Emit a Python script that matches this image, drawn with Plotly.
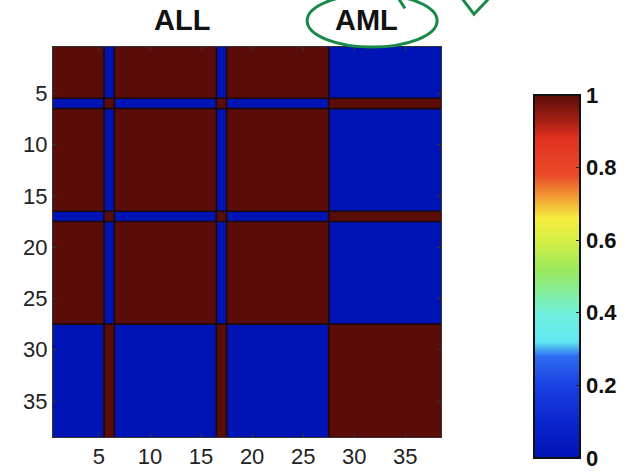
import numpy as np
import plotly.graph_objects as go

# Cluster assignment of the 38 leukemia samples (0 = ALL group, 1 = AML group)
sample_ids = list(range(1, 39))
cluster = [0, 0, 0, 0, 0, 1, 0, 0, 0, 0,
           0, 0, 0, 0, 0, 0, 1, 0, 0, 0,
           0, 0, 0, 0, 0, 0, 0, 1, 1, 1,
           1, 1, 1, 1, 1, 1, 1, 1]
tick_vals = [5, 10, 15, 20, 25, 30, 35]
cbar_ticks = [0, 0.2, 0.4, 0.6, 0.8, 1]
group_labels = ["ALL", "AML"]
group_label_x = [13.1, 31.25]

# Consensus matrix: fraction of runs in which two samples share a cluster
lab = np.array(cluster)
consensus = (lab[:, None] == lab[None, :]).astype(float)

jet = [
    [0.00, "#0013b5"], [0.10, "#0a26cf"], [0.20, "#1a40e2"], [0.28, "#2d6cf0"],
    [0.32, "#5fe8f2"], [0.40, "#72f0dc"], [0.46, "#86ee96"], [0.52, "#9ce85a"],
    [0.60, "#d6ef44"], [0.66, "#f6ee3e"], [0.72, "#f29a33"], [0.78, "#ea4a2a"],
    [0.88, "#e2301f"], [0.94, "#9a1c12"], [1.00, "#5a0c08"],
]

fig = go.Figure()
fig.add_trace(go.Heatmap(
    x=sample_ids, y=sample_ids, z=consensus,
    colorscale=jet, zmin=0, zmax=1,
    colorbar=dict(
        x=1.24, xanchor="left", xpad=0, ypad=0,
        y=0.412, yanchor="middle", len=363, lenmode="pixels",
        thickness=46, thicknessmode="pixels",
        outlinecolor="#111", outlinewidth=2,
        tickvals=cbar_ticks, ticktext=["0", "0.2", "0.4", "0.6", "0.8", "1"],
        ticks="inside", ticklen=5, tickcolor="#222",
        tickfont=dict(family="Liberation Sans", size=22, color="#111", weight="bold"),
    ),
))

# Dark outlines at every position where the cluster label changes
edges = [i + 0.5 for i in range(1, len(cluster)) if cluster[i] != cluster[i - 1]]
edge_line = dict(color="#1c0805", width=1.6)
for e in edges:
    fig.add_shape(type="line", xref="x", yref="y domain", x0=e, x1=e, y0=0, y1=1,
                  line=edge_line)
    fig.add_shape(type="line", xref="x domain", yref="y", x0=0, x1=1, y0=e, y1=e,
                  line=edge_line)

for name, gx in zip(group_labels, group_label_x):
    fig.add_annotation(
        x=gx, xref="x", y=1.07, yref="paper", text=name, showarrow=False,
        xanchor="center", yanchor="middle",
        font=dict(family="Liberation Sans", size=29, color="#111", weight="bold"),
    )

# Hand-drawn green marks around the AML label
pen = dict(color="#1a8a48", width=3)
fig.add_shape(type="circle", xref="paper", yref="paper",
              x0=0.655, x1=0.990, y0=1.0, y1=1.135, line=pen)
fig.add_shape(type="path", xref="paper", yref="paper",
              path="M 0.889 1.127 L 0.907 1.099", line=pen)
fig.add_shape(type="path", xref="paper", yref="paper",
              path="M 1.050 1.130 L 1.085 1.084 L 1.126 1.127", line=pen)

axis_common = dict(
    tickvals=tick_vals, ticks="inside", ticklen=4, tickcolor="#333",
    showline=True, linecolor="#333", linewidth=1, mirror="ticks",
    showgrid=False, zeroline=False,
    tickfont=dict(family="Liberation Sans", size=22, color="#222"),
)
fig.update_xaxes(range=[0.5, 38.5], **axis_common)
fig.update_yaxes(range=[38.5, 0.5], **axis_common)

fig.update_layout(
    width=637, height=472,
    margin=dict(l=53, r=196, t=47, b=35, autoexpand=False),
    paper_bgcolor="white", plot_bgcolor="white",
    showlegend=False,
)

fig.write_html("out.html")
